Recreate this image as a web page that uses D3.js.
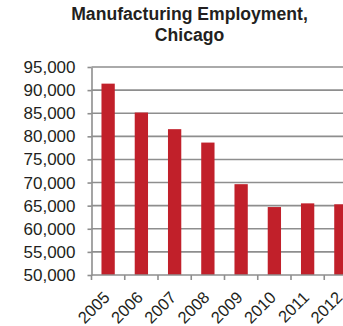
<!DOCTYPE html>
<html><head><meta charset="utf-8">
<script src="https://cdn.jsdelivr.net/npm/d3@7"></script>
<style>
body{margin:0;background:#fff;}
svg{display:block;font-family:"Liberation Sans",Arial,sans-serif;}
</style></head>
<body><svg id="c" width="343" height="326"></svg>
<script>
const titleLines = ["Manufacturing Employment,", "Chicago"];
const years = ["2005","2006","2007","2008","2009","2010","2011","2012"];
const employment = [91400, 85150, 81550, 78650, 69650, 64700, 65500, 65300];
const yTicks = [50000,55000,60000,65000,70000,75000,80000,85000,90000,95000];

const svg = d3.select("#c");
const x = d3.scaleBand().domain(years).range([91.5, 357.5]).paddingInner(0.6).paddingOuter(0.3);
const y = d3.scaleLinear().domain([50000, 95000]).range([275, 67]);
const step = x.step();

svg.selectAll("text.title").data(titleLines).enter().append("text")
  .attr("class","title")
  .attr("x", 189.5).attr("y", (d,i)=>20 + i*21)
  .attr("text-anchor","middle").attr("font-weight","bold")
  .attr("font-size", 17.6).attr("fill","#231f20").text(d=>d);

// gridlines
svg.append("g").selectAll("line").data(yTicks.slice(1)).enter().append("line")
  .attr("x1", 91.5).attr("x2", 360)
  .attr("y1", d=>y(d)).attr("y2", d=>y(d))
  .attr("stroke","#8e8e8e").attr("stroke-width",1.6);

// bars
svg.append("g").selectAll("rect").data(employment).enter().append("rect")
  .attr("x",(d,i)=>x(years[i])).attr("width",x.bandwidth())
  .attr("y",d=>y(d)).attr("height",d=>y(50000)-y(d))
  .attr("fill","#c1202a");

// y axis
const ya = svg.append("g").attr("transform","translate(91.5,0)")
  .call(d3.axisLeft(y).tickValues(yTicks).tickSize(4).tickSizeOuter(0).tickFormat(d3.format(",")));
ya.select(".domain").attr("stroke","#8e8e8e").attr("stroke-width",1.6);
ya.selectAll(".tick line").attr("stroke","#8e8e8e").attr("stroke-width",1.6);
ya.selectAll(".tick text").attr("font-size",17).attr("fill","#231f20").attr("x",-16)
  .attr("font-family","Liberation Sans, Arial, sans-serif");

// x axis baseline and category boundary ticks
svg.append("line").attr("x1",91.5).attr("x2",360).attr("y1",275).attr("y2",275)
  .attr("stroke","#8e8e8e").attr("stroke-width",1.6);
svg.append("g").selectAll("line").data(years).enter().append("line")
  .attr("x1",(d)=>x(d)+x.bandwidth()/2 - step/2).attr("x2",(d)=>x(d)+x.bandwidth()/2 - step/2)
  .attr("y1",275).attr("y2",280)
  .attr("stroke","#8e8e8e").attr("stroke-width",1.6);

svg.append("g").selectAll("text").data(years).enter().append("text")
  .attr("transform", d=>`translate(${x(d)+x.bandwidth()/2+2.5},298.5) rotate(-45)`)
  .attr("text-anchor","end").attr("font-size",16.5).attr("fill","#231f20")
  .text(d=>d);
</script></body></html>
